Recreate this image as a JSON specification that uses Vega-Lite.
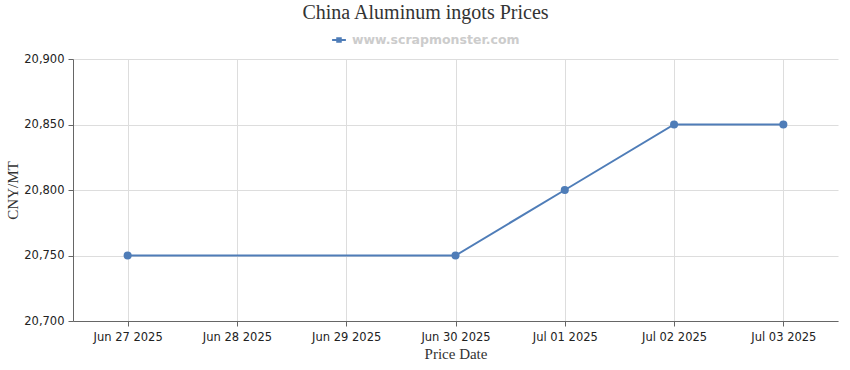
{
  "$schema": "https://vega.github.io/schema/vega-lite/v6.json",
  "autosize": "none",
  "width": 765,
  "height": 262,
  "padding": {"left": 73, "top": 59, "right": 12, "bottom": 49},
  "background": "white",
  "title": {
    "text": "China Aluminum ingots Prices",
    "font": "Liberation Serif",
    "fontSize": 20,
    "fontWeight": "normal",
    "color": "#333333",
    "anchor": "middle",
    "dx": -30,
    "offset": 10
  },
  "data": {
    "values": [
      {"date": "Jun 27 2025", "price": 20750, "series": "www.scrapmonster.com"},
      {"date": "Jun 30 2025", "price": 20750, "series": "www.scrapmonster.com"},
      {"date": "Jul 01 2025", "price": 20800, "series": "www.scrapmonster.com"},
      {"date": "Jul 02 2025", "price": 20850, "series": "www.scrapmonster.com"},
      {"date": "Jul 03 2025", "price": 20850, "series": "www.scrapmonster.com"}
    ]
  },
  "encoding": {
    "x": {
      "field": "date",
      "type": "ordinal",
      "sort": null,
      "scale": {
        "type": "point",
        "padding": 0.5,
        "domain": ["Jun 27 2025", "Jun 28 2025", "Jun 29 2025", "Jun 30 2025", "Jul 01 2025", "Jul 02 2025", "Jul 03 2025"]
      },
      "axis": {
        "title": "Price Date",
        "titleFont": "Liberation Serif",
        "titleFontSize": 15,
        "titleFontWeight": "normal",
        "titleColor": "#333333",
        "titlePadding": 4,
        "labelFont": "DejaVu Sans",
        "labelFontSize": 11.5,
        "labelColor": "#222222",
        "labelAngle": 0,
        "labelPadding": 5,
        "grid": true,
        "gridColor": "#dddddd",
        "domainColor": "#666666",
        "tickColor": "#666666",
        "tickSize": 5
      }
    },
    "y": {
      "field": "price",
      "type": "quantitative",
      "scale": {"domain": [20700, 20900], "nice": false, "zero": false},
      "axis": {
        "title": "CNY/MT",
        "values": [20700, 20750, 20800, 20850, 20900],
        "format": ",d",
        "titleFont": "Liberation Serif",
        "titleFontSize": 15,
        "titleFontWeight": "normal",
        "titleColor": "#333333",
        "titleX": -53,
        "titleY": 131,
        "titleAlign": "center",
        "titleBaseline": "bottom",
        "labelFont": "DejaVu Sans",
        "labelFontSize": 11.5,
        "labelColor": "#222222",
        "labelPadding": 4,
        "grid": true,
        "gridColor": "#dddddd",
        "domainColor": "#666666",
        "tickColor": "#666666",
        "tickSize": 5
      }
    },
    "color": {
      "field": "series",
      "type": "nominal",
      "scale": {"range": ["#4f7db8"]},
      "legend": {
        "title": null,
        "orient": "none",
        "legendX": 259,
        "legendY": -26,
        "symbolType": "M-1,-0.15H1V0.15H-1Z M-0.4,-0.4H0.4V0.4H-0.4Z",
        "symbolSize": 190,
        "symbolStrokeWidth": 0,
        "labelFont": "DejaVu Sans",
        "labelFontSize": 12.5,
        "labelFontWeight": "bold",
        "labelColor": "#cccccc",
        "labelOffset": 6,
        "labelLimit": 400
      }
    }
  },
  "layer": [
    {"mark": {"type": "line", "strokeWidth": 2}},
    {"mark": {"type": "point", "filled": true, "size": 65, "opacity": 1}}
  ],
  "config": {"view": {"stroke": null}}
}
